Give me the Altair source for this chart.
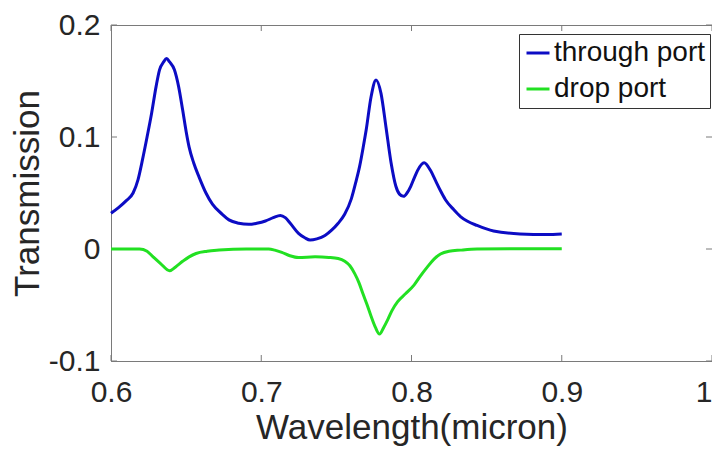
import altair as alt
import pandas as pd

# ---- data ----
through_wl = [0.600, 0.605, 0.610, 0.6147, 0.618, 0.621, 0.624, 0.627, 0.630, 0.6323,
              0.635, 0.637, 0.639, 0.6422, 0.645, 0.6477, 0.650, 0.652, 0.655, 0.6587,
              0.6632, 0.6675, 0.6741, 0.6785, 0.685, 0.6917, 0.697, 0.7028, 0.708, 0.7127,
              0.716, 0.7193, 0.7248, 0.729, 0.7325, 0.737, 0.7424, 0.747, 0.7512, 0.7555,
              0.760, 0.763, 0.7655, 0.768, 0.7698, 0.7731, 0.7764, 0.7797, 0.783, 0.7864,
              0.7896, 0.792, 0.7947, 0.797, 0.7995, 0.802, 0.804, 0.8084, 0.8127, 0.816,
              0.8193, 0.8226, 0.8282, 0.8326, 0.837, 0.8436, 0.8546, 0.8722, 0.890, 0.900]
through_tr = [0.032, 0.037, 0.043, 0.050, 0.062, 0.080, 0.100, 0.121, 0.145, 0.160,
              0.167, 0.170, 0.167, 0.160, 0.145, 0.124, 0.105, 0.091, 0.077, 0.064,
              0.050, 0.040, 0.031, 0.026, 0.023, 0.022, 0.023, 0.025, 0.028, 0.030,
              0.028, 0.023, 0.014, 0.010, 0.008, 0.009, 0.012, 0.017, 0.023, 0.031,
              0.045, 0.060, 0.074, 0.092, 0.106, 0.136, 0.151, 0.139, 0.109, 0.077,
              0.056, 0.049, 0.047, 0.050, 0.056, 0.064, 0.070, 0.077, 0.070, 0.061,
              0.052, 0.044, 0.035, 0.029, 0.025, 0.021, 0.016, 0.0135, 0.013, 0.0135]

drop_wl = [0.600, 0.619, 0.624, 0.628, 0.633, 0.639, 0.643, 0.6477, 0.652, 0.6566,
           0.664, 0.672, 0.690, 0.705, 0.709, 0.7137, 0.719, 0.7248, 0.7358, 0.745,
           0.7512, 0.7556, 0.759, 0.7622, 0.765, 0.7677, 0.7705, 0.7731, 0.776, 0.7787,
           0.7815, 0.7842, 0.787, 0.7908, 0.796, 0.8018, 0.806, 0.8106, 0.815, 0.8193,
           0.825, 0.8326, 0.8436, 0.870, 0.900]
drop_tr = [0.0, 0.0, -0.002, -0.007, -0.013, -0.0194, -0.016, -0.011, -0.007, -0.004,
           -0.002, -0.001, 0.0, 0.0, -0.001, -0.003, -0.006, -0.0077, -0.007, -0.0075,
           -0.0085, -0.011, -0.015, -0.022, -0.030, -0.040, -0.050, -0.060, -0.070, -0.076,
           -0.070, -0.063, -0.055, -0.047, -0.040, -0.032, -0.024, -0.016, -0.009, -0.0045,
           -0.002, -0.001, 0.0, 0.0003, 0.0003]

series_names = ["through port", "drop port"]
series_colors = ["#0c0cc4", "#22e022"]

x_ticks = [0.6, 0.7, 0.8, 0.9, 1.0]
y_ticks = [-0.1, 0.0, 0.1, 0.2]

# ---- tables ----
df = pd.concat([
    pd.DataFrame({"wl": through_wl, "tr": through_tr, "series": series_names[0]}),
    pd.DataFrame({"wl": drop_wl, "tr": drop_tr, "series": series_names[1]}),
])
xt = pd.DataFrame({"wl": x_ticks})
yt = pd.DataFrame({"tr": y_ticks})

W, H = 601, 336
FONT = "Liberation Sans"
TXT = "#262626"
AX = "#7a7a7a"

xscale = alt.Scale(domain=[0.6, 1.0], nice=False, zero=False)
yscale = alt.Scale(domain=[-0.1, 0.2], nice=False, zero=False)

lab_expr = "datum.value < 0 ? '-' + format(-datum.value, '~g') : format(datum.value, '~g')"

lines = alt.Chart(df).mark_line(strokeWidth=3, interpolate="monotone").encode(
    x=alt.X("wl:Q", scale=xscale, title="Wavelength(micron)",
            axis=alt.Axis(values=x_ticks, labelExpr=lab_expr, tickSize=0, labelPadding=16,
                          labelFlush=False,
                          labelAlign=alt.ExprRef(expr="datum.value >= 1 ? 'right' : 'center'"),
                          titlePadding=3, grid=False)),
    y=alt.Y("tr:Q", scale=yscale, title="Transmission",
            axis=alt.Axis(values=y_ticks, labelExpr=lab_expr, tickSize=0, labelPadding=11,
                          labelFlush=False, titlePadding=3, grid=False)),
    color=alt.Color("series:N",
                    scale=alt.Scale(domain=series_names, range=series_colors),
                    legend=alt.Legend(title=None, orient="none", legendX=408, legendY=9,
                                      symbolType="stroke", symbolSize=529,
                                      symbolStrokeWidth=3, labelFontSize=28,
                                      labelFont=FONT, labelColor="#111111",
                                      labelOffset=2, rowPadding=8, padding=5,
                                      fillColor="white", strokeColor="#333333")),
    order=alt.Order("wl:Q"),
)

tick_len = 6
bottom_ticks = alt.Chart(xt).mark_rule(color=AX, strokeWidth=1).encode(
    x=alt.X("wl:Q", scale=xscale), y=alt.value(H - tick_len), y2=alt.value(H))
top_ticks = alt.Chart(xt).mark_rule(color=AX, strokeWidth=1).encode(
    x=alt.X("wl:Q", scale=xscale), y=alt.value(0), y2=alt.value(tick_len))
left_ticks = alt.Chart(yt).mark_rule(color=AX, strokeWidth=1).encode(
    y=alt.Y("tr:Q", scale=yscale), x=alt.value(0), x2=alt.value(tick_len))
right_ticks = alt.Chart(yt).mark_rule(color=AX, strokeWidth=1).encode(
    y=alt.Y("tr:Q", scale=yscale), x=alt.value(W - tick_len), x2=alt.value(W))

chart = alt.layer(bottom_ticks, top_ticks, left_ticks, right_ticks, lines).properties(
    width=W, height=H,
    background="white",
    autosize=alt.AutoSizeParams(type="none"),
    padding={"left": 103, "top": 17, "right": 0, "bottom": 86},
).configure_view(
    stroke=AX, strokeWidth=1
).configure_axis(
    labelFont=FONT, titleFont=FONT, labelFontSize=30, titleFontSize=35,
    labelColor=TXT, titleColor=TXT, titleFontWeight="normal",
    domainColor=AX, domainWidth=1,
)

chart.save("out.html", embed_options={"renderer": "svg", "actions": False})
